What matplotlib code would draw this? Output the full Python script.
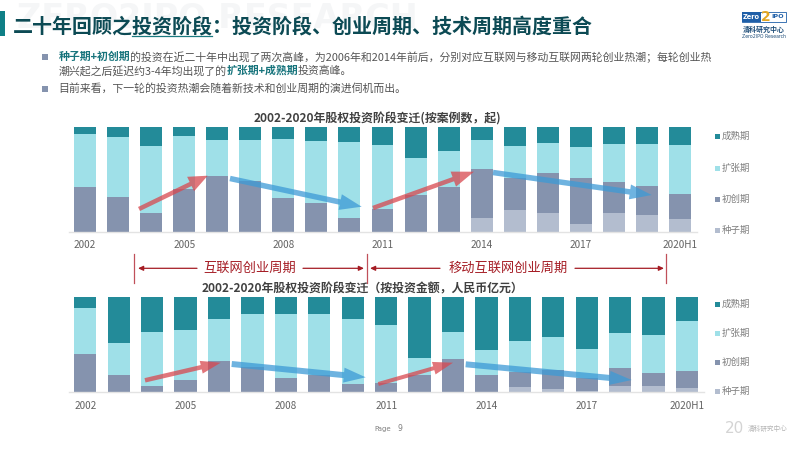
from matplotlib import pyplot as plt
import matplotlib.patches as mpatches
import numpy as np

plt.rcParams['font.family'] = ['Noto Sans CJK SC', 'DejaVu Sans']

years = ['2002', '2003', '2004', '2005', '2006', '2007', '2008', '2009', '2010', '2011',
         '2012', '2013', '2014', '2015', '2016', '2017', '2018', '2019', '2020H1']
stages = ['种子期', '初创期', '扩张期', '成熟期']
colors = ['#b3bdcf', '#8593ae', '#9fe0e8', '#238b99']

# shares, percent of each year
case_seed = [0, 0, 0, 0, 0, 0, 0, 0, 0, 0, 0, 0, 13, 21, 17.5, 7.6, 18, 15.9, 11.7]
case_early = [42.2, 32.7, 18, 41, 53.3, 48, 32.4, 27.6, 13.3, 22, 35, 42.9, 46.4, 29.8, 38.7, 43.4, 29.3, 27.6, 24.5]
case_expand = [50.5, 57.1, 63.6, 49.8, 34.3, 39.6, 56.2, 58.7, 71.7, 61, 34.8, 34.1, 27.9, 30.8, 28.2, 29.3, 36.5, 40, 46.7]
case_mature = [7.3, 10.2, 18.4, 9.2, 12.4, 12.4, 11.4, 13.7, 15, 17, 30.2, 23, 12.7, 18.4, 15.6, 19.7, 16.2, 16.5, 17.1]

amt_seed = [0, 0, 0, 0, 0, 0, 0, 0, 0, 0, 0, 0, 0, 5.6, 3.5, 1.4, 7, 7, 4.2]
amt_early = [39.7, 17.8, 6.6, 13.2, 33.1, 26.8, 15.3, 18.1, 9, 10, 17.8, 34.5, 18.5, 16, 19.8, 13.2, 18, 13.6, 17.8]
amt_expand = [48.8, 34.1, 56.8, 52.3, 43.2, 55.4, 66.9, 63.4, 67.3, 60.4, 17.7, 28.2, 25.8, 32.1, 34.9, 31, 37.4, 39.3, 52.2]
amt_mature = [11.5, 48.1, 36.6, 34.5, 23.7, 17.8, 17.8, 18.5, 23.7, 29.6, 64.5, 37.3, 55.7, 46.3, 41.8, 54.4, 37.6, 40.1, 25.8]

case_title = '2002-2020年股权投资阶段变迁(按案例数，起)'
amt_title = '2002-2020年股权投资阶段变迁（按投资金额，人民币亿元）'
cycle_labels = ['互联网创业周期', '移动互联网创业周期']

W, H = 800, 450
fig = plt.figure(figsize=(8, 4.5), dpi=100)

# overlay in pixel coordinates for the slide furniture
bg = fig.add_axes([0, 0, 1, 1])
bg.set_xlim(0, W)
bg.set_ylim(H, 0)
bg.axis('off')


def stacked(left, right, top, bottom, series, title, title_x, title_y):
    ax = fig.add_axes([left / W, 1 - bottom / H, (right - left) / W, (bottom - top) / H])
    x = np.arange(len(years))
    base = np.zeros(len(years))
    for vals, c in zip(series, colors):
        ax.bar(x, vals, bottom=base, width=0.665, color=c, linewidth=0)
        base = base + np.array(vals)
    ax.set_ylim(0, 100)
    ax.set_xlim(-0.5, len(years) - 0.5)
    ax.set_xticks(x[::3])
    ax.set_xticklabels(years[::3], fontsize=7.2, color='#636363')
    ax.tick_params(axis='x', length=0, pad=6)
    ax.set_yticks([])
    for s in ['top', 'left', 'right']:
        ax.spines[s].set_visible(False)
    ax.spines['bottom'].set_color('#e3e3e3')
    ax.spines['bottom'].set_linewidth(1)
    ax.patch.set_alpha(0)
    bg.text(title_x, title_y, title, fontsize=8.6, fontweight='bold', color='#404040',
            ha='center', va='center')
    return ax


stacked(68.5, 696.5, 126.7, 231.7, [case_seed, case_early, case_expand, case_mature],
        case_title, 377, 119.5)
stacked(68.6, 703.7, 296.7, 392.3, [amt_seed, amt_early, amt_expand, amt_mature],
        amt_title, 362.5, 288.5)

# overlay on top of the bars
ov = fig.add_axes([0, 0, 1, 1])
ov.set_xlim(0, W)
ov.set_ylim(H, 0)
ov.axis('off')
ov.patch.set_alpha(0)


def arrow(x1, y1, x2, y2, color, width, head_w, head_l):
    ov.add_patch(mpatches.FancyArrow(x1, y1, x2 - x1, y2 - y1, width=width, head_width=head_w,
                                     head_length=head_l, length_includes_head=True,
                                     facecolor=color, edgecolor='none', alpha=0.75))


red, blue = '#d8484f', '#3d9ad6'
arrow(139, 209, 207.7, 175.7, red, 4.5, 16, 19)
arrow(230, 178.5, 361.7, 206.7, blue, 5.5, 16, 22)
arrow(373, 208, 474, 171.7, red, 4.5, 16, 22)
arrow(493, 172.5, 651.7, 195, blue, 5.5, 15, 22)
arrow(145, 380.3, 220.7, 362.7, red, 4.5, 13, 20)
arrow(231.7, 364, 365.7, 377.3, blue, 6, 15, 22)
arrow(378.3, 384, 453, 362.7, red, 4, 13, 20)
arrow(465.7, 364.3, 631.7, 380, blue, 6, 14, 22)

# cycle brackets
dark_red = '#a51c24'
for bx in [134, 367, 666]:
    bg.plot([bx, bx], [254, 283], color='#c0505a', lw=0.9)
for x1, x2 in [(197, 138), (303, 364), (440, 370), (575, 664)]:
    bg.annotate('', xy=(x2, 268.3), xytext=(x1, 268.3),
                arrowprops=dict(arrowstyle='-|>,head_length=0.3,head_width=0.14', lw=0.9,
                                color=dark_red, shrinkA=0, shrinkB=0))
bg.text(249.5, 268, cycle_labels[0], fontsize=9.5, color=dark_red, ha='center', va='center')
bg.text(507.7, 268, cycle_labels[1], fontsize=9.5, color=dark_red, ha='center', va='center')

# legends
for ys in [[230, 199, 168, 136.7], [391.5, 362, 333, 304]]:
    for name, c, y in zip(stages, colors, ys):
        bg.add_patch(mpatches.Rectangle((714.5, y - 2.5), 5, 5, color=c, lw=0))
        bg.text(722, y, name, fontsize=6.8, color='#7f7f7f', ha='left', va='center')

# header
bg.text(17, 18, 'ZERO2IPO RESEARCH', fontsize=24, fontweight='bold', color='#f5f6f7',
        ha='left', va='center', family='DejaVu Sans')
bg.add_patch(mpatches.Rectangle((0, 11), 5, 25, color='#0f7f86', lw=0))
title_dark = '#0c4a54'
bg.text(12.5, 26, '二十年回顾之投资阶段：投资阶段、创业周期、技术周期高度重合', fontsize=14.4,
        fontweight='bold', color=title_dark, ha='left', va='center')
bg.plot([132, 212], [35.5, 35.5], color='#1a7a80', lw=0.9)

# bullet lines, mixed runs placed one after the other
renderer = fig.canvas.get_renderer()


def runs(x, y, parts):
    for s, bold in parts:
        t = bg.text(x, y, s, fontsize=7.85, va='center', ha='left',
                    fontweight='bold' if bold else 'normal',
                    color='#17747c' if bold else '#555555')
        x += t.get_window_extent(renderer).width


for y in [57, 88.5]:
    bg.add_patch(mpatches.Rectangle((42, y - 3), 6, 6, color='#8593ae', lw=0))
runs(58.5, 57, [('种子期+初创期', True),
                ('的投资在近二十年中出现了两次高峰，为2006年和2014年前后，分别对应互联网与移动互联网两轮创业热潮；每轮创业热', False)])
runs(58.5, 71, [('潮兴起之后延迟约3-4年均出现了的', False), ('扩张期+成熟期', True), ('投资高峰。', False)])
runs(58.5, 88.5, [('目前来看，下一轮的投资热潮会随着新技术和创业周期的演进伺机而出。', False)])

# logo, top right
bg.add_patch(mpatches.Rectangle((742, 12), 44, 9.5, facecolor='white', edgecolor='#1f5fa8', lw=0.6))
bg.add_patch(mpatches.Rectangle((742, 12), 19, 9.5, color='#1f5fa8', lw=0))
bg.text(751, 16.8, 'Zero', fontsize=4.8, fontweight='bold', color='white', ha='center', va='center',
        family='DejaVu Sans')
bg.text(777.5, 16.8, 'IPO', fontsize=4.6, fontweight='bold', color='#1f5fa8', ha='center', va='center',
        family='DejaVu Sans')
bg.text(766, 17, '2', fontsize=10, fontweight='bold', color='#e5a823', ha='center', va='center',
        family='DejaVu Sans')
bg.text(764, 29, '清科研究中心', fontsize=5, fontweight='bold', color='#1f4e79', ha='center', va='center')
bg.text(764, 36, 'Zero2IPO Research', fontsize=3.3, color='#1f4e79', ha='center', va='center',
        family='DejaVu Sans')

# footer
bg.text(374, 428.5, 'Page', fontsize=5, color='#808080', ha='left', va='center', family='DejaVu Sans')
bg.text(399.5, 428.5, '9', fontsize=5.5, color='#808080', ha='center', va='center', family='DejaVu Sans')
bg.text(734, 428.5, '20', fontsize=11, color='#d4d4d4', ha='center', va='center', family='DejaVu Sans')
bg.text(748, 428.5, '清科研究中心', fontsize=4.8, color='#b5b5b5', ha='left', va='center')

fig.savefig('out.png', dpi=100)
